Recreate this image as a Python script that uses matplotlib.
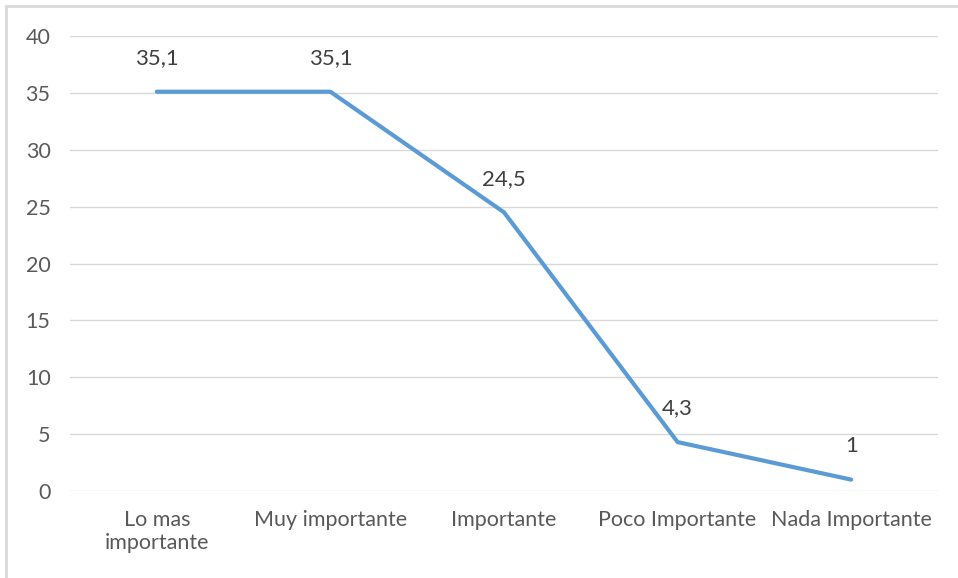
import matplotlib.pyplot as plt
from matplotlib.patches import Rectangle

categories = ['Lo mas\nimportante', 'Muy importante', 'Importante',
              'Poco Importante', 'Nada Importante']
values = [35.1, 35.1, 24.5, 4.3, 1]
labels = ['35,1', '35,1', '24,5', '4,3', '1']
yticks = [0, 5, 10, 15, 20, 25, 30, 35, 40]

plt.rcParams['font.family'] = ['Lato', 'DejaVu Sans']

fig = plt.figure(figsize=(9.58, 5.78), dpi=100)
ax = fig.add_axes([70/958, 1 - 491/578, 868/958, 455/578])

x = list(range(len(values)))
ax.plot(x, values, color='#5B9BD5', lw=3, solid_capstyle='round', zorder=3)
for xi, v, t in zip(x, values, labels):
    ax.annotate(t, (xi, v), xytext=(0, 17), textcoords='offset points',
                ha='center', va='bottom', fontsize=16, color='#404040')

ax.set_xlim(-0.5, len(values) - 0.5)
ax.set_ylim(0, 40)
ax.set_yticks(yticks)
ax.set_xticks(x)
ax.set_xticklabels(categories, fontsize=15.5, color='#595959', linespacing=1.15)
ax.tick_params(axis='y', labelsize=15.5, labelcolor='#595959', length=0, pad=14)
ax.tick_params(axis='x', length=0, pad=14)
ax.grid(axis='y', color='#d9d9d9', lw=1)
ax.set_axisbelow(True)
for s in ax.spines.values():
    s.set_visible(False)

# chart frame (left and top edges visible)
fig.patches.append(Rectangle((6/958, -0.1), 1.2, 1.1 - 6/578, transform=fig.transFigure,
                             fill=False, edgecolor='#d9d9d9', lw=2))

fig.savefig('out.png', dpi=100)
